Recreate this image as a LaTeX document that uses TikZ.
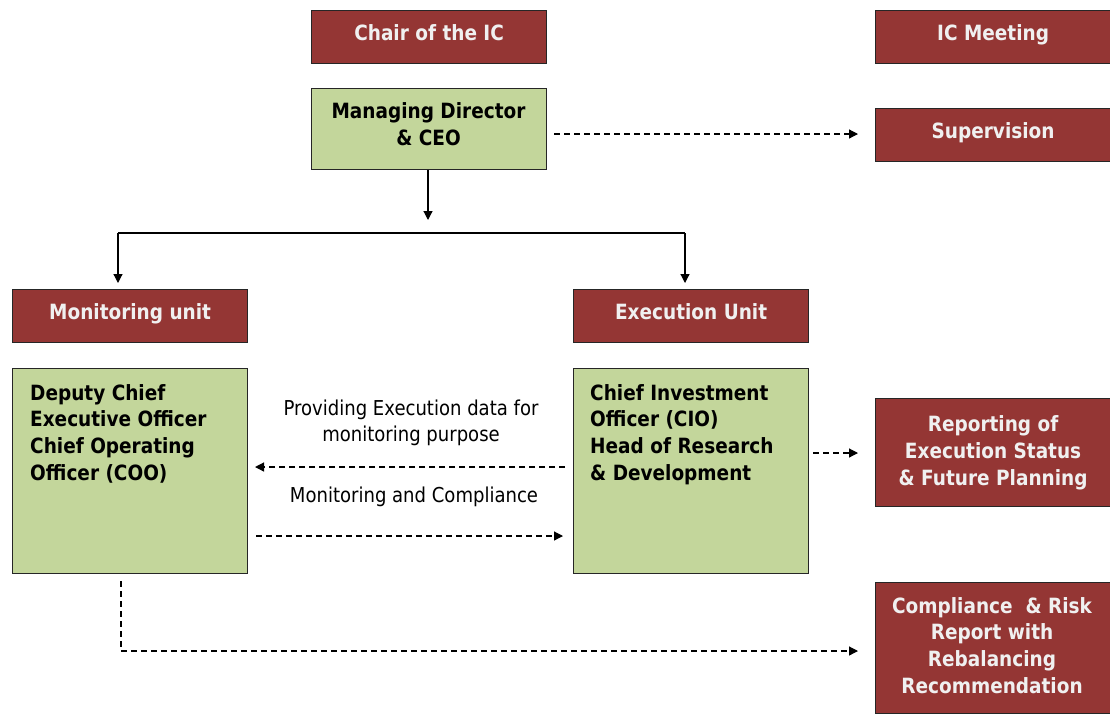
\documentclass[tikz,border=0pt]{standalone}
\usepackage{fontspec}
\setmainfont{DejaVu Sans}[FakeStretch=0.88]
\usetikzlibrary{arrows.meta,calc}
\definecolor{boxred}{HTML}{943634}
\definecolor{boxgreen}{HTML}{C3D69B}
\definecolor{edge}{HTML}{262626}
\begin{document}
\begin{tikzpicture}[x=1pt,y=-1pt,
  box/.style={draw=edge, line width=1.2pt, inner sep=0pt, anchor=north west,
    minimum width=235pt, minimum height=53pt, align=center,
    font=\fontsize{21}{26.8}\selectfont\bfseries},
  redbox/.style={box, fill=boxred, text=white!94!black},
  greenbox/.style={box, fill=boxgreen, text=black},
  oneline/.style={text height=12pt, text depth=5pt},
  boxtext/.style={inner sep=0pt, font=\fontsize{21}{26.8}\selectfont\bfseries},
  lbl/.style={inner sep=0pt, align=center, font=\fontsize{20.5}{25.5}\selectfont},
  arr/.style={line width=1.2pt, -{Triangle[length=9pt,width=9pt]}},
  darr/.style={arr, dash pattern=on 6pt off 4pt},
  dline/.style={line width=1.2pt, dash pattern=on 6pt off 4pt},
  plain/.style={line width=1.2pt}]
\useasboundingbox (0,0) rectangle (1110,713);

\node[redbox, oneline] (chair) at (311,10) {Chair of the IC};
\node[redbox, oneline] (icm) at (875,10) {IC Meeting};
\node[greenbox, minimum height=81pt] (md) at (311,88) {};
\node[boxtext, align=center] (mdtxt) at (428.5,124) {Managing Director\\\& CEO};
\node[redbox, oneline] (sup) at (875,108) {Supervision};
\node[redbox, oneline] (mon) at (12,289) {Monitoring unit};
\node[redbox, oneline] (exe) at (573,289) {Execution Unit};
\node[greenbox, minimum height=205pt] (dep) at (12,368) {};
\node[boxtext, anchor=north west, align=left] (deptxt) at (30,384) {Deputy Chief\\Executive Officer\\Chief Operating\\Officer (COO)};
\node[greenbox, minimum height=205pt] (cio) at (573,368) {};
\node[boxtext, anchor=north west, align=left] (ciotxt) at (590,384) {Chief Investment\\Officer (CIO)\\Head of Research\\\& Development};
\node[redbox, minimum height=108pt] (rep) at (875,398) {Reporting of\\Execution Status\\\& Future Planning};
\node[redbox, minimum height=131pt] (comp) at (875,582) {};
\node[boxtext, align=center, text=white!94!black] (comptxt) at (992,645.5) {Compliance \ \& Risk\\Report with\\Rebalancing\\Recommendation};

\node[lbl] (l1) at (411,423) {Providing Execution data for\\monitoring purpose};
\node[lbl] (l2) at (414,497) {Monitoring and Compliance};

% solid tree
\coordinate (mdarr) at (428,220);
\draw[arr] (md.south -| mdarr) -- (mdarr);
\coordinate (bl) at (118,233);
\coordinate (br) at (685,233);
\draw[plain] (bl) -- (br);
\draw[arr] (bl) -- (118,283);
\draw[arr] (br) -- (685,283);

% dashed
\coordinate (supend) at (858,134);
\draw[darr] ([xshift=7pt]md.east |- supend) -- (supend);
\coordinate (repend) at (858,453);
\draw[darr] ([xshift=4pt]cio.east |- repend) -- (repend);
\coordinate (provend) at (255,467);
\draw[darr] ([xshift=-8pt]cio.west |- provend) -- (provend);
\coordinate (monend) at (563,536);
\draw[darr] ([xshift=8pt]dep.east |- monend) -- (monend);
\coordinate (corner) at (121,651);
\coordinate (compend) at (858,651);
\draw[dline] ([yshift=-7pt]dep.south -| corner) -- (corner);
\draw[darr] (corner) -- (compend);
\end{tikzpicture}
\end{document}
